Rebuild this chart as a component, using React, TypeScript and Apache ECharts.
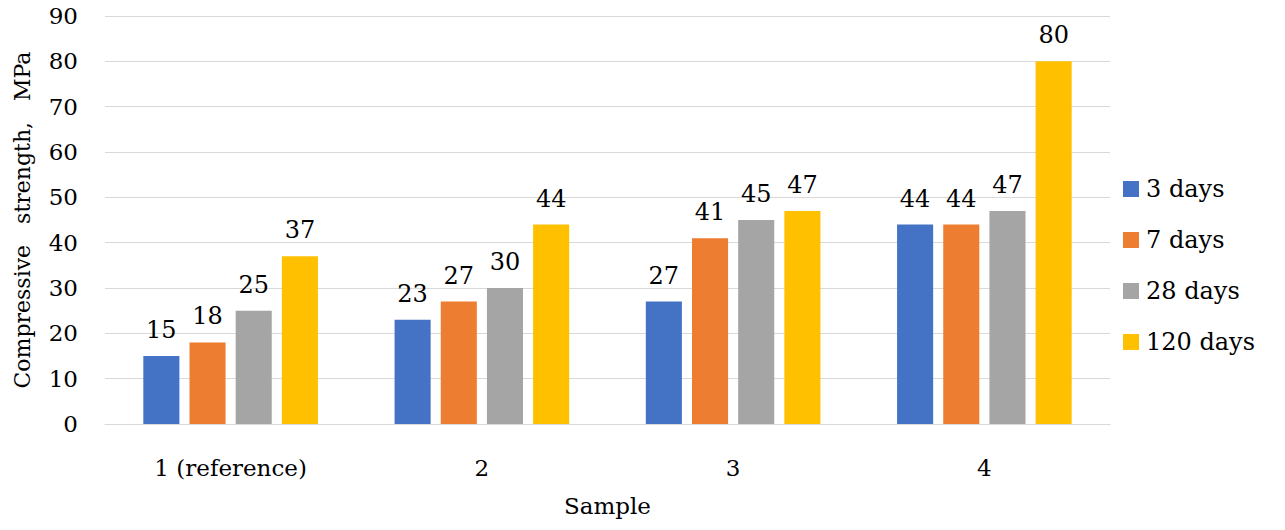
import React, { useEffect, useRef } from "react";
import * as echarts from "echarts";

const categories = ["1 (reference)", "2", "3", "4"];
const seriesNames = ["3 days", "7 days", "28 days", "120 days"];
const days3 = [15, 23, 27, 44];
const days7 = [18, 27, 41, 44];
const days28 = [25, 30, 45, 47];
const days120 = [37, 44, 47, 80];
const colors = ["#4472C4", "#ED7D31", "#A5A5A5", "#FFC000"];

const FONT = "DejaVu Serif";

export default function App() {
  const ref = useRef<HTMLDivElement>(null);
  useEffect(() => {
    if (!ref.current) return;
    const chart = echarts.init(ref.current, undefined, { renderer: "svg" });
    const values = [days3, days7, days28, days120];
    chart.setOption({
      animation: false,
      backgroundColor: "#ffffff",
      textStyle: { fontFamily: FONT, color: "#000" },
      grid: {
        left: 105,
        right: 175,
        top: 16,
        bottom: 106,
        containLabel: false,
        outerBoundsMode: "none",
      },
      legend: {
        orient: "vertical",
        left: 1118,
        top: 172,
        itemWidth: 16,
        itemHeight: 16,
        itemGap: 27,
        icon: "rect",
        textStyle: { fontFamily: FONT, fontSize: 24, color: "#000", padding: [0, 0, 0, 2] },
        data: seriesNames,
      },
      xAxis: {
        type: "category",
        data: categories,
        name: "Sample",
        nameLocation: "middle",
        nameGap: 70,
        nameTextStyle: { fontFamily: FONT, fontSize: 23, color: "#000" },
        axisLine: { show: true, lineStyle: { color: "#d9d9d9" } },
        axisTick: { show: false },
        axisLabel: { fontFamily: FONT, fontSize: 23, color: "#000", margin: 32 },
      },
      yAxis: {
        type: "value",
        min: 0,
        max: 90,
        interval: 10,
        name: "Compressive   strength,   MPa",
        nameLocation: "middle",
        nameGap: 72,
        nameTextStyle: { fontFamily: FONT, fontSize: 22, color: "#000" },
        axisLine: { show: false },
        axisTick: { show: false },
        axisLabel: { fontFamily: FONT, fontSize: 23, color: "#000", margin: 27 },
        splitLine: { lineStyle: { color: "#d9d9d9", width: 1 } },
      },
      series: seriesNames.map((name, i) => ({
        name,
        type: "bar",
        data: values[i],
        barGap: "28%",
        barCategoryGap: "30.5%",
        itemStyle: { color: colors[i] },
        label: {
          show: true,
          position: "top",
          distance: 14,
          fontFamily: FONT,
          fontSize: 24,
          color: "#000",
        },
      })),
    });
    return () => chart.dispose();
  }, []);
  return (
    <div
      ref={ref}
      style={{ position: "fixed", left: 0, top: 0, width: 1285, height: 530 }}
    />
  );
}
